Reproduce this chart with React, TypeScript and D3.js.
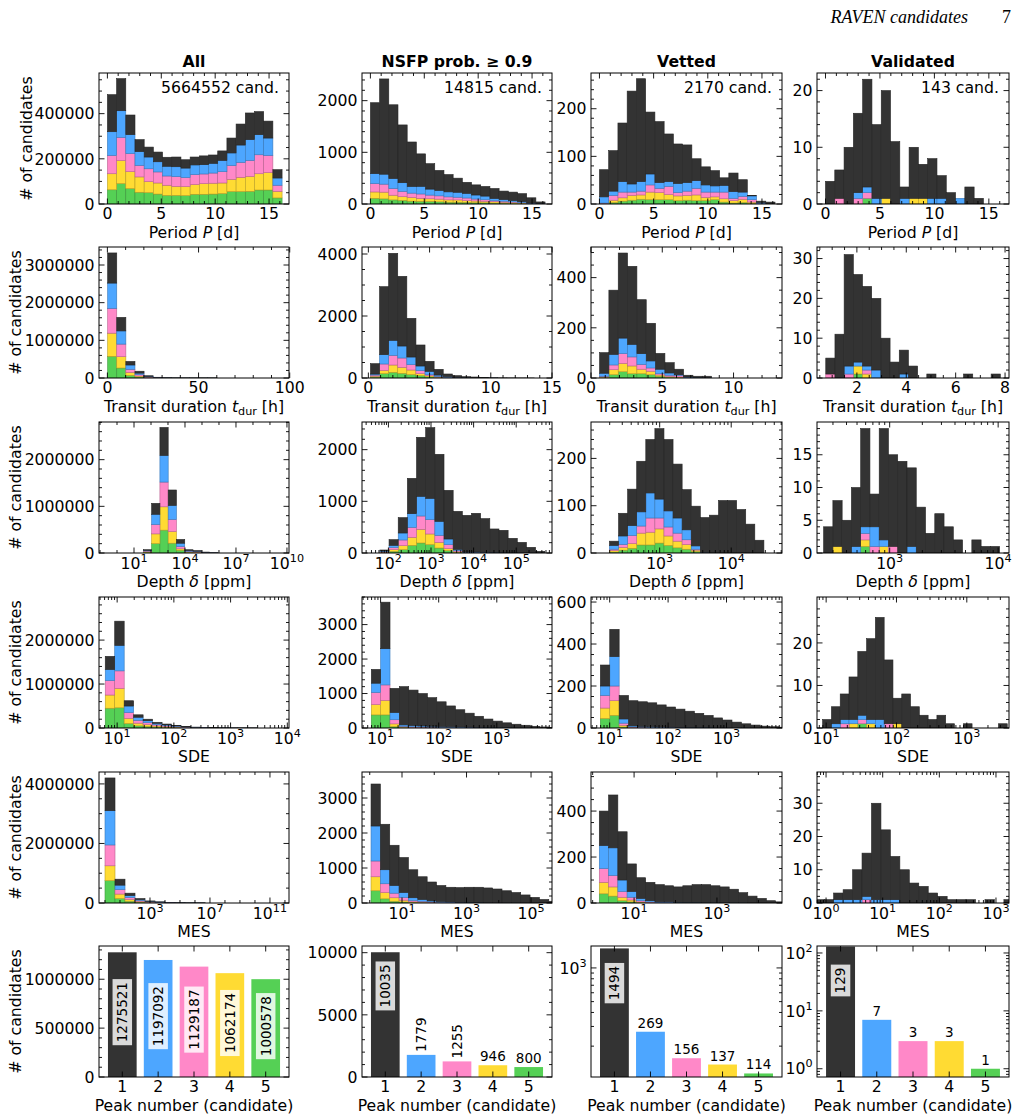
import * as d3 from "d3";

// stack colours: peak 1 (top of stack) .. peak 5 (bottom)
const PEAK_COLORS = ["#333333", "#4da6ff", "#ff88c8", "#ffdb33", "#55d055"];
const PEAK_NUMBERS = [1, 2, 3, 4, 5];
const COLUMN_TITLES = ["All", "NSFP prob. \u2265 0.9", "Vetted", "Validated"];
const CAND_TOTALS = [5664552, 14815, 2170, 143];

// ---- histogram counts: one row per peak (1..5), one entry per bin ----
const periodAll = [
  [164e3, 142e3, 87e3, 53e3, 44e3, 43e3, 40e3, 43e3, 37e3, 35e3, 39e3, 37e3, 42e3, 66e3, 93e3, 118e3, 102e3, 75e3, 37e3],
  [105e3, 118e3, 84e3, 61e3, 52e3, 45e3, 43e3, 44e3, 42e3, 43e3, 41e3, 43e3, 50e3, 56e3, 77e3, 92e3, 89e3, 77e3, 32e3],
  [81e3, 103e3, 80e3, 51e3, 57e3, 49e3, 41e3, 43e3, 40e3, 44e3, 43e3, 45e3, 50e3, 61e3, 66e3, 71e3, 84e3, 76e3, 27e3],
  [71e3, 102e3, 75e3, 68e3, 49e3, 49e3, 45e3, 40e3, 40e3, 43e3, 47e3, 48e3, 47e3, 54e3, 63e3, 66e3, 72e3, 77e3, 29e3],
  [63e3, 90e3, 68e3, 52e3, 50e3, 44e3, 38e3, 38e3, 37e3, 43e3, 43e3, 44e3, 46e3, 55e3, 55e3, 56e3, 62e3, 62e3, 27e3],
];
const periodNsfp = [
  [1372, 1843, 1427, 1118, 861, 628, 492, 388, 335, 273, 214, 196, 187, 193, 164, 163, 154, 101, 34],
  [194, 193, 194, 168, 129, 148, 116, 104, 97, 96, 90, 78, 71, 45, 32, 26, 19, 6, 3],
  [161, 155, 129, 103, 84, 84, 71, 64, 58, 52, 52, 38, 32, 19, 20, 13, 7, 7, 3],
  [123, 129, 90, 71, 71, 58, 51, 52, 45, 45, 32, 33, 26, 26, 19, 20, 13, 6, 0],
  [110, 100, 80, 70, 55, 52, 50, 42, 35, 34, 32, 25, 24, 17, 15, 8, 7, 0, 0],
];
const periodVetted = [
  [57, 85, 123, 195, 216, 130, 128, 100, 83, 79, 46, 38, 32, 16, 39, 26, 1, 3, 4],
  [13, 9, 22, 17, 20, 23, 12, 10, 19, 18, 16, 15, 13, 14, 14, 9, 8, 2, 0],
  [1, 10, 12, 7, 8, 15, 9, 17, 7, 9, 14, 11, 10, 14, 5, 6, 5, 1, 0],
  [0, 5, 7, 10, 9, 16, 15, 11, 10, 10, 12, 7, 6, 7, 5, 7, 3, 0, 0],
  [1, 3, 6, 8, 10, 9, 9, 9, 7, 8, 7, 7, 9, 4, 2, 3, 1, 0, 0],
];
const periodValidated = [
  [4, 5, 10, 14, 19, 13, 19, 11, 2, 9, 6, 7, 4, 2, 0, 3, 1, 0, 0],
  [0, 0, 0, 1, 1, 1, 0, 0, 1, 0, 0, 1, 1, 0, 1, 0, 0, 0, 0],
  [0, 1, 0, 1, 1, 0, 0, 0, 0, 0, 0, 0, 0, 0, 0, 0, 0, 0, 0],
  [0, 0, 0, 0, 0, 0, 1, 0, 0, 1, 1, 0, 0, 0, 0, 0, 0, 0, 0],
  [0, 0, 0, 0, 1, 0, 0, 0, 0, 0, 0, 0, 0, 0, 0, 0, 0, 0, 0],
];

const tdurAll = [
  [800e3, 360e3, 95e3, 51e3, 16e3, 5e3, 2e3, 800, 400, 200, 100, 50, 0, 0, 0, 0, 0, 0, 0],
  [670e3, 350e3, 115e3, 40e3, 14e3, 5e3, 1500, 600, 300, 150, 80, 40, 0, 0, 0, 0, 0, 0, 0],
  [660e3, 334e3, 80e3, 35e3, 12e3, 4e3, 1500, 500, 250, 120, 60, 30, 0, 0, 0, 0, 0, 0, 0],
  [615e3, 301e3, 80e3, 27e3, 10e3, 3e3, 1e3, 400, 200, 100, 50, 25, 0, 0, 0, 0, 0, 0, 0],
  [575e3, 265e3, 70e3, 27e3, 8e3, 3e3, 1e3, 300, 150, 80, 40, 20, 0, 0, 0, 0, 0, 0, 0],
];
const tdurNsfp = [
  [335, 2193, 2807, 2248, 1248, 678, 323, 185, 84, 52, 31, 24, 15, 8, 5, 3, 2, 1, 0],
  [32, 301, 484, 387, 247, 150, 107, 45, 25, 12, 6, 4, 3, 1, 0, 0, 0, 0, 0],
  [35, 205, 312, 301, 172, 97, 33, 20, 8, 5, 3, 2, 1, 0, 0, 0, 0, 0, 0],
  [30, 107, 236, 194, 150, 65, 35, 15, 6, 3, 2, 1, 1, 0, 0, 0, 0, 0, 0],
  [30, 140, 183, 150, 108, 75, 40, 15, 6, 3, 1, 1, 0, 0, 0, 0, 0, 0, 0],
];
const tdurVetted = [
  [82, 256, 339, 311, 215, 150, 63, 41, 22, 7, 5, 6, 0, 0, 0, 0, 0, 0, 0],
  [12, 42, 62, 50, 43, 28, 18, 9, 3, 2, 1, 1, 0, 0, 0, 0, 0, 0, 0],
  [3, 19, 39, 36, 19, 13, 5, 5, 6, 1, 1, 0, 0, 0, 0, 0, 0, 0, 0],
  [2, 20, 33, 31, 18, 14, 5, 3, 2, 1, 0, 0, 0, 0, 0, 0, 0, 0, 0],
  [2, 13, 25, 17, 17, 13, 7, 3, 2, 0, 0, 0, 0, 0, 0, 0, 0, 0, 0],
];
const tdurValidated = [
  [4, 11, 28, 22, 20, 18, 10, 4, 6, 3, 0, 1, 0, 0, 0, 1, 0, 0, 1],
  [0, 0, 2, 1, 1, 2, 0, 0, 1, 0, 0, 0, 0, 0, 0, 0, 0, 0, 0],
  [1, 0, 1, 0, 1, 0, 0, 0, 0, 0, 0, 0, 0, 0, 0, 0, 0, 0, 0],
  [0, 0, 0, 2, 1, 0, 0, 0, 0, 0, 0, 0, 0, 0, 0, 0, 0, 0, 0],
  [0, 0, 0, 1, 0, 0, 0, 0, 0, 0, 0, 0, 0, 0, 0, 0, 0, 0, 0],
];

const depthAll = [
  [15e3, 234e3, 600e3, 330e3, 80e3, 18e3, 12e3, 6e3, 1e3],
  [13e3, 220e3, 570e3, 300e3, 70e3, 14e3, 10e3, 4e3, 1e3],
  [14e3, 200e3, 530e3, 260e3, 50e3, 14e3, 10e3, 4e3, 1e3],
  [14e3, 210e3, 500e3, 250e3, 30e3, 12e3, 9e3, 3e3, 1e3],
  [15e3, 200e3, 490e3, 210e3, 60e3, 12e3, 9e3, 3e3, 1e3],
];
const depthNsfp = [
  [18, 110, 297, 684, 1142, 1368, 1297, 942, 735, 710, 749, 650, 455, 432, 279, 202, 108, 31],
  [15, 45, 135, 264, 381, 413, 271, 110, 26, 7, 10, 8, 5, 3, 2, 2, 1, 1],
  [10, 38, 110, 194, 258, 277, 136, 77, 20, 5, 4, 3, 2, 2, 1, 1, 1, 0],
  [10, 33, 77, 155, 264, 207, 109, 39, 15, 4, 3, 2, 2, 1, 1, 1, 0, 0],
  [5, 32, 65, 148, 194, 161, 97, 45, 10, 3, 2, 2, 1, 1, 1, 0, 0, 0],
];
const depthVetted = [
  [9, 48, 77, 107, 113, 149, 151, 114, 85, 84, 74, 80, 111, 111, 92, 61, 27],
  [8, 18, 21, 30, 53, 40, 34, 32, 21, 7, 1, 0, 0, 0, 0, 0, 0],
  [3, 6, 17, 15, 30, 23, 19, 17, 10, 2, 0, 0, 0, 0, 0, 0, 0],
  [3, 6, 10, 25, 27, 30, 20, 14, 10, 3, 0, 0, 0, 0, 0, 0, 0],
  [2, 6, 10, 17, 17, 21, 16, 11, 8, 3, 0, 0, 0, 0, 0, 0, 0],
];
const depthValidated = [
  [4, 7, 5, 9, 15, 5, 17, 14, 14, 12, 7, 3, 6, 4, 2, 0, 2, 1, 1],
  [0, 0, 0, 1, 1, 3, 1, 0, 0, 1, 0, 0, 0, 0, 0, 0, 0, 0, 0],
  [0, 0, 0, 0, 1, 1, 0, 1, 0, 0, 0, 0, 0, 0, 0, 0, 0, 0, 0],
  [0, 1, 0, 0, 1, 0, 1, 0, 0, 0, 0, 0, 0, 0, 0, 0, 0, 0, 0],
  [0, 0, 0, 0, 1, 0, 0, 0, 0, 0, 0, 0, 0, 0, 0, 0, 0, 0, 0],
];

const sdeAll = [
  [300e3, 550e3, 120e3, 55e3, 35e3, 24e3, 17e3, 12e3, 6e3, 3e3, 1500, 900, 600, 300, 150, 80],
  [250e3, 580e3, 150e3, 70e3, 45e3, 29e3, 20e3, 13e3, 8e3, 5e3, 3e3, 1800, 1e3, 500, 250, 120],
  [330e3, 400e3, 130e3, 65e3, 45e3, 29e3, 20e3, 13e3, 8e3, 5e3, 3e3, 1800, 1e3, 500, 250, 120],
  [300e3, 440e3, 120e3, 60e3, 40e3, 26e3, 18e3, 12e3, 7e3, 4e3, 2500, 1500, 800, 400, 200, 100],
  [450e3, 460e3, 100e3, 50e3, 35e3, 22e3, 15e3, 10e3, 6e3, 3e3, 2e3, 1e3, 600, 300, 150, 80],
];
const sdeNsfp = [
  [400, 1350, 700, 1110, 1030, 940, 830, 720, 605, 500, 405, 320, 245, 188, 141, 103, 75, 47, 28, 14],
  [270, 1050, 210, 40, 35, 30, 25, 20, 17, 15, 12, 10, 7, 6, 4, 3, 2, 1, 1, 0],
  [350, 450, 120, 20, 15, 12, 10, 9, 8, 6, 5, 4, 3, 2, 2, 2, 1, 1, 1, 1],
  [300, 420, 80, 15, 10, 10, 8, 6, 5, 5, 4, 3, 3, 2, 2, 1, 1, 1, 0, 0],
  [380, 380, 40, 15, 10, 8, 7, 5, 5, 4, 4, 3, 2, 2, 1, 1, 1, 0, 0, 0],
];
const sdeVetted = [
  [100, 130, 112, 120, 118, 114, 105, 96, 87, 78, 68, 58, 47, 37, 27, 19, 14, 9, 6, 4, 2],
  [45, 140, 20, 5, 3, 3, 2, 2, 1, 1, 1, 1, 1, 1, 1, 1, 0, 0, 0, 0, 0],
  [60, 70, 10, 2, 2, 1, 1, 1, 1, 1, 1, 1, 0, 0, 0, 0, 0, 0, 0, 0, 0],
  [50, 70, 8, 2, 1, 1, 1, 1, 1, 0, 0, 0, 0, 0, 0, 0, 0, 0, 0, 0, 0],
  [45, 60, 5, 1, 1, 1, 1, 0, 0, 0, 0, 0, 0, 0, 0, 0, 0, 0, 0, 0, 0],
];
const sdeValidated = [
  [2, 4, 6, 10, 15, 19, 24, 15, 6, 8, 5, 3, 2, 3, 1, 0, 1, 0, 0, 0, 1, 0, 1],
  [0, 1, 1, 1, 1, 1, 2, 0, 0, 0, 0, 0, 0, 0, 0, 0, 0, 0, 0, 0, 0, 0, 0],
  [0, 0, 1, 0, 1, 0, 0, 1, 0, 0, 0, 0, 0, 0, 0, 0, 0, 0, 0, 0, 0, 0, 0],
  [0, 0, 0, 1, 0, 1, 0, 0, 1, 0, 0, 0, 0, 0, 0, 0, 0, 0, 0, 0, 0, 0, 0],
  [0, 0, 0, 0, 1, 0, 0, 0, 0, 0, 0, 0, 0, 0, 0, 0, 0, 0, 0, 0, 0, 0, 0],
];

const mesAll = [
  [1100e3, 200e3, 80e3, 35e3, 16e3, 9e3, 5e3, 2500, 1200, 600],
  [1150e3, 150e3, 65e3, 30e3, 14e3, 8e3, 4e3, 2e3, 1e3, 500],
  [700e3, 150e3, 65e3, 30e3, 14e3, 8e3, 4e3, 2e3, 1e3, 500],
  [500e3, 150e3, 60e3, 28e3, 13e3, 8e3, 4e3, 2e3, 1e3, 500],
  [750e3, 150e3, 60e3, 27e3, 13e3, 7e3, 3e3, 1500, 800, 400],
];
const mesNsfp = [
  [1200, 1300, 1150, 1000, 800, 650, 540, 460, 420, 420, 435, 440, 422, 394, 345, 296, 227, 158, 99, 50],
  [1000, 400, 220, 140, 80, 50, 30, 20, 15, 10, 8, 5, 4, 3, 2, 2, 1, 1, 0, 0],
  [450, 250, 130, 80, 35, 25, 15, 10, 8, 5, 4, 3, 2, 2, 2, 1, 1, 1, 1, 0],
  [400, 180, 100, 50, 20, 15, 10, 6, 4, 3, 2, 1, 1, 1, 1, 1, 1, 0, 0, 0],
  [350, 120, 50, 30, 15, 10, 5, 4, 3, 2, 1, 1, 1, 0, 0, 0, 0, 0, 0, 0],
];
const mesVetted = [
  [150, 230, 210, 120, 90, 80, 75, 70, 67, 73, 78, 79, 74, 69, 59, 44, 30, 20, 10, 5],
  [100, 120, 50, 25, 10, 5, 3, 3, 2, 1, 1, 1, 1, 1, 1, 1, 0, 0, 0, 0],
  [60, 50, 25, 12, 5, 3, 1, 1, 1, 1, 1, 0, 0, 0, 0, 0, 0, 0, 0, 0],
  [50, 40, 15, 8, 3, 1, 1, 1, 0, 0, 0, 0, 0, 0, 0, 0, 0, 0, 0, 0],
  [40, 30, 10, 5, 2, 1, 0, 0, 0, 0, 0, 0, 0, 0, 0, 0, 0, 0, 0, 0],
];
const mesValidated = [
  [1, 1, 2, 3, 9, 13, 29, 21, 13, 10, 6, 5, 3, 2, 1, 1, 1, 0, 1, 0, 1, 1],
  [0, 0, 1, 1, 1, 1, 1, 1, 1, 0, 0, 0, 0, 0, 0, 0, 0, 0, 0, 0, 0, 0],
  [0, 0, 0, 0, 0, 1, 0, 0, 0, 0, 0, 0, 0, 0, 0, 0, 0, 0, 0, 0, 0, 0],
  [0, 0, 0, 0, 0, 0, 0, 0, 0, 0, 0, 0, 0, 0, 0, 0, 0, 0, 0, 0, 0, 0],
  [0, 0, 0, 0, 0, 0, 0, 0, 0, 0, 0, 0, 0, 0, 0, 0, 0, 0, 0, 0, 0, 0],
];

// candidates per peak number
const peaksAll = [1275521, 1197092, 1129187, 1062174, 1000578];
const peaksNsfp = [10035, 1779, 1255, 946, 800];
const peaksVetted = [1494, 269, 156, 137, 114];
const peaksValidated = [129, 7, 3, 3, 1];

// ---- layout ----
const W = 1022;
const H = 1119;
const COL_X = [
  [99, 289],
  [362, 552],
  [591, 782],
  [817, 1009],
];
const ROW_TOP = [73, 247, 422, 597, 772, 946];
const YLABEL_X = [31.5, 20.5, 20.5, 20.5, 20.5, 20.5];
const BOX_H = 131;
const FONT = "'DejaVu Sans', sans-serif";
const FS = 15.7;
const SUP_FS = 11.2;

type Hist = {
  row: number;
  col: number;
  log?: boolean;
  x: [number, number]; // exponents when log
  xTicks: number[];
  xSub?: number;
  bin0: number;
  binW: number;
  counts: number[][];
  yTop: number;
  yTicks: number[];
  ySub: number;
};

const hists: Hist[] = [
  // orbital period
  { row: 0, col: 0, x: [-0.78, 16.85], xTicks: [0, 5, 10, 15], xSub: 5, bin0: 0, binW: 0.853, counts: periodAll, yTop: 580000, yTicks: [0, 200000, 400000], ySub: 4 },
  { row: 0, col: 1, x: [-0.78, 16.85], xTicks: [0, 5, 10, 15], xSub: 5, bin0: 0, binW: 0.853, counts: periodNsfp, yTop: 2535, yTicks: [0, 1000, 2000], ySub: 5 },
  { row: 0, col: 2, x: [-0.78, 16.85], xTicks: [0, 5, 10, 15], xSub: 5, bin0: 0, binW: 0.853, counts: periodVetted, yTop: 275, yTicks: [0, 100, 200], ySub: 5 },
  { row: 0, col: 3, x: [-0.78, 16.85], xTicks: [0, 5, 10, 15], xSub: 5, bin0: 0, binW: 0.853, counts: periodValidated, yTop: 23.1, yTicks: [0, 10, 20], ySub: 5 },
  // transit duration
  { row: 1, col: 0, x: [-4.6, 99.6], xTicks: [0, 50, 100], xSub: 5, bin0: 0.15, binW: 4.99, counts: tdurAll, yTop: 3478000, yTicks: [0, 1000000, 2000000, 3000000], ySub: 5 },
  { row: 1, col: 1, x: [-0.52, 15.0], xTicks: [0, 5, 10, 15], xSub: 5, bin0: 0.17, binW: 0.743, counts: tdurNsfp, yTop: 4226, yTicks: [0, 2000, 4000], ySub: 4 },
  { row: 1, col: 2, x: [0, 13.4], xTicks: [0, 5, 10], xSub: 5, bin0: 0.6, binW: 0.655, counts: tdurVetted, yTop: 522, yTicks: [0, 200, 400], ySub: 4 },
  { row: 1, col: 3, x: [0.385, 8.16], xTicks: [2, 4, 6, 8], xSub: 4, bin0: 0.74, binW: 0.372, counts: tdurValidated, yTop: 32.9, yTicks: [0, 10, 20, 30], ySub: 5 },
  // transit depth
  { row: 2, col: 0, log: true, x: [-1.06, 10.12], xTicks: [1, 4, 7, 10], bin0: 1.55, binW: 0.487, counts: depthAll, yTop: 2807000, yTicks: [0, 1000000, 2000000], ySub: 5 },
  { row: 2, col: 1, log: true, x: [1.38, 5.84], xTicks: [2, 3, 4, 5], bin0: 1.8, binW: 0.215, counts: depthNsfp, yTop: 2535, yTicks: [0, 1000, 2000], ySub: 5 },
  { row: 2, col: 2, log: true, x: [2.04, 4.71], xTicks: [3, 4], bin0: 2.298, binW: 0.127, counts: depthVetted, yTop: 277, yTicks: [0, 100, 200], ySub: 5 },
  { row: 2, col: 3, log: true, x: [2.33, 4.1], xTicks: [3, 4], bin0: 2.391, binW: 0.0854, counts: depthValidated, yTop: 20, yTicks: [0, 5, 10, 15], ySub: 5 },
  // SDE
  { row: 3, col: 0, log: true, x: [0.68, 4.03], xTicks: [1, 2, 3, 4], bin0: 0.79, binW: 0.167, counts: sdeAll, yTop: 2980000, yTicks: [0, 1000000, 2000000], ySub: 5 },
  { row: 3, col: 1, log: true, x: [0.68, 3.95], xTicks: [1, 2, 3], bin0: 0.84, binW: 0.161, counts: sdeNsfp, yTop: 3800, yTicks: [0, 1000, 2000, 3000], ySub: 5 },
  { row: 3, col: 2, log: true, x: [0.68, 3.95], xTicks: [1, 2, 3], bin0: 0.84, binW: 0.161, counts: sdeVetted, yTop: 624, yTicks: [0, 200, 400, 600], ySub: 4 },
  { row: 3, col: 3, log: true, x: [0.87, 3.6], xTicks: [1, 2, 3], bin0: 0.95, binW: 0.125, counts: sdeValidated, yTop: 30.8, yTicks: [0, 10, 20], ySub: 5 },
  // MES
  { row: 4, col: 0, log: true, x: [-0.4, 12.27], xTicks: [3, 7, 11], bin0: 0, binW: 0.667, counts: mesAll, yTop: 4400000, yTicks: [0, 2000000, 4000000], ySub: 4 },
  { row: 4, col: 1, log: true, x: [-0.24, 5.65], xTicks: [1, 3, 5], bin0: 0.04, binW: 0.29, counts: mesNsfp, yTop: 3743, yTicks: [0, 1000, 2000, 3000], ySub: 5 },
  { row: 4, col: 2, log: true, x: [-0.04, 4.57], xTicks: [1, 3], bin0: 0.16, binW: 0.224, counts: mesVetted, yTop: 570, yTicks: [0, 200, 400], ySub: 4 },
  { row: 4, col: 3, log: true, x: [-0.16, 3.23], xTicks: [0, 1, 2, 3], bin0: -0.2, binW: 0.167, counts: mesValidated, yTop: 39.4, yTicks: [0, 10, 20, 30], ySub: 5 },
];

type PeakPanel = {
  col: number;
  values: number[];
  log?: boolean;
  y: [number, number];
  yTicks: number[];
  ySub?: number;
  labels: string[]; // "in" boxed inside bar, "rot" rotated above, "flat" above
  inFrac: number;
};

const peakPanels: PeakPanel[] = [
  { col: 0, values: peaksAll, y: [0, 1340000], yTicks: [0, 500000, 1000000], ySub: 5, labels: ["in", "in", "in", "in", "in"], inFrac: 0.48 },
  { col: 1, values: peaksNsfp, y: [0, 10537], yTicks: [0, 5000, 10000], ySub: 5, labels: ["in", "rot", "rot", "flat", "flat"], inFrac: 0.27 },
  { col: 2, values: peaksVetted, log: true, y: [106, 1570], yTicks: [1000], labels: ["in", "flat", "flat", "flat", "flat"], inFrac: 0.27 },
  { col: 3, values: peaksValidated, log: true, y: [0.72, 132], yTicks: [1, 10, 100], labels: ["in", "flat", "flat", "flat", "flat"], inFrac: 0.26 },
];

const ROW_XLABELS = ["period", "tdur", "depth", "SDE", "MES", "peak"];

function XLabel({ kind, x, y }: { kind: string; x: number; y: number }) {
  if (kind === "period")
    return (
      <text x={x} y={y} textAnchor="middle" fontSize={FS}>
        Period <tspan fontStyle="italic">P</tspan> [d]
      </text>
    );
  if (kind === "tdur")
    return (
      <text x={x} y={y} textAnchor="middle" fontSize={FS}>
        Transit duration <tspan fontStyle="italic">t</tspan>
        <tspan fontSize={11.2} dy={3}>dur</tspan>
        <tspan dy={-3}> [h]</tspan>
      </text>
    );
  if (kind === "depth")
    return (
      <text x={x} y={y} textAnchor="middle" fontSize={FS}>
        Depth <tspan fontStyle="italic">{"\u03b4"}</tspan> [ppm]
      </text>
    );
  if (kind === "peak")
    return (
      <text x={x} y={y} textAnchor="middle" fontSize={FS}>
        Peak number (candidate)
      </text>
    );
  return (
    <text x={x} y={y} textAnchor="middle" fontSize={FS}>
      {kind}
    </text>
  );
}

function PowLabel({ e, ...rest }: any) {
  return (
    <text fontSize={FS} {...rest}>
      10<tspan fontSize={SUP_FS} dy={-7}>{e}</tspan>
    </text>
  );
}

function linMinor(majors: number[], sub: number, lo: number, hi: number) {
  const step = majors[1] - majors[0];
  const m = step / sub;
  const out: number[] = [];
  for (let k = Math.ceil(lo / m - 1e-9); k * m <= hi + 1e-9; k++) {
    const v = k * m;
    if (Math.abs(v / step - Math.round(v / step)) > 1e-6) out.push(v);
  }
  return out;
}

function logMinor(majExp: number[], lo: number, hi: number) {
  const out: number[] = [];
  const everyDecade = majExp.length < 2 || majExp[1] - majExp[0] === 1;
  for (let d = Math.floor(lo) - 1; d <= Math.ceil(hi); d++) {
    if (everyDecade) {
      for (let k = 2; k <= 9; k++) {
        const e = d + Math.log10(k);
        if (e >= lo && e <= hi) out.push(Math.pow(10, e));
      }
    } else if (d >= lo && d <= hi && !majExp.includes(d)) out.push(Math.pow(10, d));
  }
  return out;
}

const MAJ = 5.5;
const MIN = 3;

function Ticks({ x0, x1, top, bottom, xMaj, xMin, yMaj, yMin }: any) {
  const lines: any[] = [];
  xMaj.forEach((px: number, i: number) => {
    lines.push(<line key={`xb${i}`} x1={px} x2={px} y1={bottom} y2={bottom - MAJ} />);
    lines.push(<line key={`xt${i}`} x1={px} x2={px} y1={top} y2={top + MAJ} />);
  });
  xMin.forEach((px: number, i: number) => {
    lines.push(<line key={`xbm${i}`} x1={px} x2={px} y1={bottom} y2={bottom - MIN} />);
    lines.push(<line key={`xtm${i}`} x1={px} x2={px} y1={top} y2={top + MIN} />);
  });
  yMaj.forEach((py: number, i: number) => {
    lines.push(<line key={`yl${i}`} x1={x0} x2={x0 + MAJ} y1={py} y2={py} />);
    lines.push(<line key={`yr${i}`} x1={x1} x2={x1 - MAJ} y1={py} y2={py} />);
  });
  yMin.forEach((py: number, i: number) => {
    lines.push(<line key={`ylm${i}`} x1={x0} x2={x0 + MIN} y1={py} y2={py} />);
    lines.push(<line key={`yrm${i}`} x1={x1} x2={x1 - MIN} y1={py} y2={py} />);
  });
  return (
    <g stroke="#000" strokeWidth={0.9}>
      {lines}
    </g>
  );
}

function HistPanel({ h }: { h: Hist }) {
  const [x0, x1] = COL_X[h.col];
  const top = ROW_TOP[h.row];
  const bottom = top + BOX_H;
  const xs: any = h.log
    ? d3.scaleLog().domain([Math.pow(10, h.x[0]), Math.pow(10, h.x[1])]).range([x0, x1])
    : d3.scaleLinear().domain(h.x).range([x0, x1]);
  const ys = d3.scaleLinear().domain([0, h.yTop]).range([bottom, top]);
  const nBins = h.counts[0].length;
  const edges = d3.range(nBins + 1).map((i) => {
    const e = h.bin0 + i * h.binW;
    return h.log ? Math.pow(10, e) : e;
  });
  const rows = d3.range(nBins).map((i) => h.counts.map((c) => c[i]));
  const series = d3
    .stack<number[], number>()
    .keys([4, 3, 2, 1, 0])
    .value((d, k) => d[k])(rows);
  const clipId = `clip-${h.row}-${h.col}`;

  const xMajVals = h.log ? h.xTicks.map((e) => Math.pow(10, e)) : h.xTicks;
  const xMinVals = h.log
    ? logMinor(h.xTicks, h.x[0], h.x[1])
    : linMinor(h.xTicks, h.xSub || 5, h.x[0], h.x[1]);
  const yMinVals = linMinor(h.yTicks, h.ySub, 0, h.yTop);

  return (
    <g>
      <clipPath id={clipId}>
        <rect x={x0} y={top} width={x1 - x0} height={BOX_H} />
      </clipPath>
      <g clipPath={`url(#${clipId})`}>
        {series.map((s) =>
          s.map((d, i) => {
            const v = d[1] - d[0];
            if (v <= 0) return null;
            const c = PEAK_COLORS[s.key];
            return (
              <rect
                key={`${s.key}-${i}`}
                x={xs(edges[i])}
                width={xs(edges[i + 1]) - xs(edges[i])}
                y={ys(d[1])}
                height={ys(d[0]) - ys(d[1])}
                fill={c}
                stroke={d3.color(c)!.darker(0.9).formatHex()}
                strokeWidth={0.6}
              />
            );
          })
        )}
      </g>
      <rect x={x0} y={top} width={x1 - x0} height={BOX_H} fill="none" stroke="#000" strokeWidth={1} />
      <Ticks
        x0={x0}
        x1={x1}
        top={top}
        bottom={bottom}
        xMaj={xMajVals.map((v) => xs(v))}
        xMin={xMinVals.map((v) => xs(v))}
        yMaj={h.yTicks.map((v) => ys(v))}
        yMin={yMinVals.map((v) => ys(v))}
      />
      {h.xTicks.map((t, i) =>
        h.log ? (
          <PowLabel key={i} e={t} x={xs(xMajVals[i])} y={bottom + 15.5} textAnchor="middle" />
        ) : (
          <text key={i} x={xs(t)} y={bottom + 15} textAnchor="middle" fontSize={FS}>
            {t}
          </text>
        )
      )}
      {h.yTicks.map((t) => (
        <text key={t} x={x0 - 4.5} y={ys(t) + 5.7} textAnchor="end" fontSize={FS}>
          {t}
        </text>
      ))}
      <XLabel kind={ROW_XLABELS[h.row]} x={(x0 + x1) / 2} y={bottom + 34} />
    </g>
  );
}

function PeakBars({ p }: { p: PeakPanel }) {
  const [x0, x1] = COL_X[p.col];
  const top = ROW_TOP[5];
  const bottom = top + BOX_H;
  const xs = d3.scaleLinear().domain([0.35, 5.65]).range([x0, x1]);
  const ys: any = p.log
    ? d3.scaleLog().domain(p.y).range([bottom, top]).clamp(true)
    : d3.scaleLinear().domain(p.y).range([bottom, top]);
  const bw = xs(0.8) - xs(0);
  const yMinVals = p.log
    ? logMinor(p.yTicks.map((v) => Math.log10(v)), Math.log10(p.y[0]), Math.log10(p.y[1]))
    : linMinor(p.yTicks, p.ySub || 5, p.y[0], p.y[1]);
  const LFS = 13.5;
  return (
    <g>
      {p.values.map((v, i) => {
        const cx = xs(PEAK_NUMBERS[i]);
        const yt = ys(v);
        return <rect key={i} x={cx - bw / 2} y={yt} width={bw} height={bottom - yt} fill={PEAK_COLORS[i]} />;
      })}
      {p.values.map((v, i) => {
        const cx = xs(PEAK_NUMBERS[i]);
        const yt = ys(v);
        const label = String(v);
        const len = label.length * 0.636 * LFS;
        const mode = p.labels[i];
        if (mode === "in") {
          const cy = yt + p.inFrac * (bottom - yt);
          return (
            <g key={i} transform={`translate(${cx},${cy}) rotate(-90)`}>
              <rect x={-len / 2 - 3} y={-LFS / 2 - 3} width={len + 6} height={LFS + 6} fill="#fff" fillOpacity={0.82} />
              <text x={0} y={LFS * 0.36} textAnchor="middle" fontSize={LFS}>
                {label}
              </text>
            </g>
          );
        }
        if (mode === "rot") {
          return (
            <text key={i} transform={`translate(${cx + LFS * 0.36},${yt - 3}) rotate(-90)`} fontSize={LFS}>
              {label}
            </text>
          );
        }
        return (
          <text key={i} x={cx} y={yt - 4} textAnchor="middle" fontSize={LFS}>
            {label}
          </text>
        );
      })}
      <rect x={x0} y={top} width={x1 - x0} height={BOX_H} fill="none" stroke="#000" strokeWidth={1} />
      <Ticks
        x0={x0}
        x1={x1}
        top={top}
        bottom={bottom}
        xMaj={PEAK_NUMBERS.map((n) => xs(n))}
        xMin={[]}
        yMaj={p.yTicks.map((v) => ys(v))}
        yMin={yMinVals.map((v) => ys(v))}
      />
      {PEAK_NUMBERS.map((n) => (
        <text key={n} x={xs(n)} y={bottom + 15} textAnchor="middle" fontSize={FS}>
          {n}
        </text>
      ))}
      {p.yTicks.map((t) =>
        p.log ? (
          <PowLabel key={t} e={Math.round(Math.log10(t))} x={x0 - 4.5} y={ys(t) + 5.7} textAnchor="end" />
        ) : (
          <text key={t} x={x0 - 4.5} y={ys(t) + 5.7} textAnchor="end" fontSize={FS}>
            {t}
          </text>
        )
      )}
      <XLabel kind="peak" x={(x0 + x1) / 2} y={bottom + 34} />
    </g>
  );
}

export default function App() {
  return (
    <svg
      width={W}
      height={H}
      viewBox={`0 0 ${W} ${H}`}
      fontFamily={FONT}
      style={{ position: "absolute", left: 0, top: 0, background: "#fff" }}
    >
      <rect width={W} height={H} fill="#fff" />
      <text x={968} y={23} textAnchor="end" fontFamily="'Liberation Serif', serif" fontStyle="italic" fontSize={18}>
        RAVEN candidates
      </text>
      <text x={1011} y={23} textAnchor="end" fontFamily="'Liberation Serif', serif" fontSize={18}>
        7
      </text>
      {COLUMN_TITLES.map((t, c) => (
        <text key={t} x={(COL_X[c][0] + COL_X[c][1]) / 2} y={ROW_TOP[0] - 6} textAnchor="middle" fontSize={FS} fontWeight="bold">
          {t}
        </text>
      ))}
      {ROW_TOP.map((t, r) => (
        <text key={r} transform={`translate(${YLABEL_X[r]},${t + BOX_H / 2}) rotate(-90)`} textAnchor="middle" fontSize={FS}>
          # of candidates
        </text>
      ))}
      {hists.map((h) => (
        <HistPanel key={`${h.row}-${h.col}`} h={h} />
      ))}
      {peakPanels.map((p) => (
        <PeakBars key={p.col} p={p} />
      ))}
      {CAND_TOTALS.map((n, c) => (
        <text key={c} x={COL_X[c][1] - 10} y={ROW_TOP[0] + 19.5} textAnchor="end" fontSize={FS}>
          {n} cand.
        </text>
      ))}
    </svg>
  );
}
